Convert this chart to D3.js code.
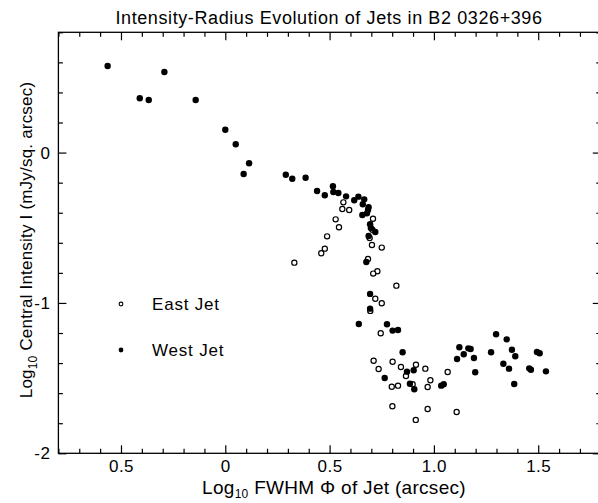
<!DOCTYPE html>
<html>
<head>
<meta charset="utf-8">
<script src="https://cdn.jsdelivr.net/npm/d3@7"></script>
<style>
  body { margin: 0; background: #fff; }
  text { font-family: "Liberation Sans", Arial, sans-serif; fill: #000; }
</style>
</head>
<body>
<div id="chart"></div>
<script>
// chart data
var eastX = [0.566, 0.561, 0.594, 0.708, 0.529, 0.545, 0.705, 0.488, 0.692, 0.703, 0.750, 0.477, 0.460, 0.684, 0.331,
             0.729, 0.709, 0.820, 0.719, 0.750, 0.695, 0.745, 0.711, 0.802, 0.735, 0.842, 0.914, 0.959, 0.866, 0.983,
             0.798, 0.828, 0.898, 0.970, 1.066, 0.801, 0.970, 0.913, 1.109];
var eastY = [-0.331, -0.375, -0.382, -0.440, -0.444, -0.497, -0.513, -0.557, -0.568, -0.615, -0.632, -0.639, -0.670, -0.708, -0.732,
             -0.789, -0.805, -0.885, -0.972, -1.002, -1.053, -1.202, -1.384, -1.391, -1.439, -1.426, -1.411, -1.437, -1.486, -1.514,
             -1.557, -1.550, -1.541, -1.559, -1.459, -1.687, -1.705, -1.778, -1.725];

var westX = [-0.564, -0.410, -0.367, -0.292, -0.142, 0.000, 0.050, 0.114, 0.088, 0.290, 0.321, 0.385, 0.440, 0.477, 0.516,
             0.518, 0.542, 0.579, 0.618, 0.638, 0.666, 0.659, 0.687, 0.684, 0.679, 0.657, 0.694, 0.698, 0.719, 0.687,
             0.676, 0.694, 0.694, 0.640, 0.775, 0.802, 0.828, 0.850, 0.871, 0.903, 0.764, 0.885, 0.906, 1.035, 1.047,
             1.122, 1.111, 1.143, 1.165, 1.176, 1.192, 1.198, 1.298, 1.349, 1.274, 1.374, 1.390, 1.333, 1.360, 1.385,
             1.457, 1.465, 1.494, 1.507, 1.537];
var westY = [0.576, 0.361, 0.350, 0.536, 0.350, 0.152, 0.055, -0.071, -0.142, -0.147, -0.174, -0.167, -0.255, -0.284, -0.224,
             -0.262, -0.269, -0.291, -0.317, -0.293, -0.311, -0.344, -0.364, -0.382, -0.404, -0.415, -0.477, -0.501, -0.528, -0.555,
             -0.728, -0.940, -1.038, -1.140, -1.142, -1.184, -1.180, -1.328, -1.457, -1.448, -1.499, -1.537, -1.574, -1.550, -1.541,
             -1.295, -1.373, -1.341, -1.302, -1.306, -1.366, -1.461, -1.208, -1.242, -1.328, -1.311, -1.355, -1.404, -1.437, -1.539,
             -1.435, -1.444, -1.326, -1.335, -1.455];

var xTicks = [-0.5, 0, 0.5, 1.0, 1.5];
var xTickLabels = ["0.5", "0", "0.5", "1.0", "1.5"];
var yTicks = [0, -1, -2];
var yTickLabels = ["0", "-1", "-2"];
var seriesNames = ["East Jet", "West Jet"];

//svg size
var svgWidth = 598;
var svgHeight = 503;

//plot frame (right edge runs just past the window)
var margin = { top: 32.3, right: -2.8, bottom: 49.7, left: 58.4 };
var chartWidth = svgWidth - margin.left - margin.right;
var chartHeight = svgHeight - margin.top - margin.bottom;

var svg = d3.select("#chart")
    .append("svg")
    .attr("width", svgWidth)
    .attr("height", svgHeight);

var chartGroup = svg.append("g").attr("transform", `translate(${margin.left}, ${margin.top})`);

//scales
var xScale = d3.scaleLinear().domain([-0.8, 1.8]).range([0, chartWidth]);
var yScale = d3.scaleLinear().domain([-2, 0.8]).range([chartHeight, 0]);

//minor tick values
var xMinor = d3.range(-8, 18).map(d => d / 10).filter(d => xTicks.indexOf(d) < 0);
var yMinor = d3.range(-9, 5).map(d => d / 5).filter(d => yTicks.indexOf(d) < 0);

function fmt(ticks, labels) {
    return d => labels[ticks.indexOf(d)];
}

//bottom axis
chartGroup.append("g").attr("class", "x-axis")
    .attr("transform", `translate(0, ${chartHeight})`)
    .call(d3.axisBottom(xScale).tickValues(xTicks).tickFormat(fmt(xTicks, xTickLabels))
        .tickSize(-8).tickSizeOuter(0).tickPadding(7));
chartGroup.append("g")
    .attr("transform", `translate(0, ${chartHeight})`)
    .call(d3.axisBottom(xScale).tickValues(xMinor).tickFormat("").tickSize(-4.5).tickSizeOuter(0));

//top axis
chartGroup.append("g")
    .call(d3.axisTop(xScale).tickValues(xTicks).tickFormat("").tickSize(-8).tickSizeOuter(0));
chartGroup.append("g")
    .call(d3.axisTop(xScale).tickValues(xMinor).tickFormat("").tickSize(-4.5).tickSizeOuter(0));

//left axis
chartGroup.append("g").attr("class", "y-axis")
    .call(d3.axisLeft(yScale).tickValues(yTicks).tickFormat(fmt(yTicks, yTickLabels))
        .tickSize(-8).tickSizeOuter(0).tickPadding(8));
chartGroup.append("g")
    .call(d3.axisLeft(yScale).tickValues(yMinor).tickFormat("").tickSize(-4.5).tickSizeOuter(0));

//right axis
chartGroup.append("g")
    .attr("transform", `translate(${chartWidth}, 0)`)
    .call(d3.axisRight(yScale).tickValues(yTicks).tickFormat("").tickSize(-8).tickSizeOuter(0));
chartGroup.append("g")
    .attr("transform", `translate(${chartWidth}, 0)`)
    .call(d3.axisRight(yScale).tickValues(yMinor).tickFormat("").tickSize(-4.5).tickSizeOuter(0));

chartGroup.selectAll(".domain").remove();
chartGroup.selectAll(".tick line").attr("stroke", "#000").attr("stroke-width", 1.2);
chartGroup.selectAll(".tick text")
    .style("font-family", '"Liberation Sans", Arial, sans-serif')
    .style("font-size", "17px")
    .style("letter-spacing", "0.5px")
    .attr("fill", "#000");

//frame
chartGroup.append("rect")
    .attr("width", chartWidth)
    .attr("height", chartHeight)
    .attr("fill", "none")
    .attr("stroke", "#000")
    .attr("stroke-width", 1.3);

//east jet: open circles
chartGroup.selectAll(".east")
    .data(eastX)
    .enter()
    .append("circle")
    .attr("class", "east")
    .attr("cx", d => xScale(d))
    .attr("cy", (d, i) => yScale(eastY[i]))
    .attr("r", 2.6)
    .attr("fill", "#fff")
    .attr("stroke", "#000")
    .attr("stroke-width", 1.2);

//west jet: filled circles
chartGroup.selectAll(".west")
    .data(westX)
    .enter()
    .append("circle")
    .attr("class", "west")
    .attr("cx", d => xScale(d))
    .attr("cy", (d, i) => yScale(westY[i]))
    .attr("r", 3.2)
    .attr("fill", "#000");

//legend
var legend = svg.append("g").attr("transform", "translate(121, 304)");
legend.append("circle").attr("cx", 0).attr("cy", 0).attr("r", 1.9)
    .attr("fill", "#fff").attr("stroke", "#000").attr("stroke-width", 1.1);
legend.append("circle").attr("cx", 0).attr("cy", 46).attr("r", 2.4).attr("fill", "#000");
legend.selectAll(".legText")
    .data(seriesNames)
    .enter()
    .append("text")
    .attr("x", 31)
    .attr("y", (d, i) => 6 + i * 46)
    .style("font-size", "17px")
    .style("letter-spacing", "0.8px")
    .text(d => d);

//title
svg.append("text")
    .attr("x", 329)
    .attr("y", 24)
    .attr("text-anchor", "middle")
    .style("font-size", "18px")
    .style("letter-spacing", "0.6px")
    .text("Intensity-Radius Evolution of Jets in B2 0326+396");

//x axis label
var xLabel = svg.append("text")
    .attr("x", 334)
    .attr("y", 494)
    .attr("text-anchor", "middle")
    .style("font-size", "19px")
    .style("letter-spacing", "0.3px");
xLabel.append("tspan").text("Log");
xLabel.append("tspan").attr("dy", 4).style("font-size", "12px").text("10");
xLabel.append("tspan").attr("dy", -4).text(" FWHM \u03A6 of Jet (arcsec)");

//y axis label
var yLabel = svg.append("text")
    .attr("transform", "translate(32, 240) rotate(-90)")
    .attr("text-anchor", "middle")
    .style("font-size", "17px")
    .style("letter-spacing", "0.2px");
yLabel.append("tspan").text("Log");
yLabel.append("tspan").attr("dy", 5).style("font-size", "12px").text("10");
yLabel.append("tspan").attr("dy", -5).text(" Central Intensity I (mJy/sq. arcsec)");
</script>
</body>
</html>
